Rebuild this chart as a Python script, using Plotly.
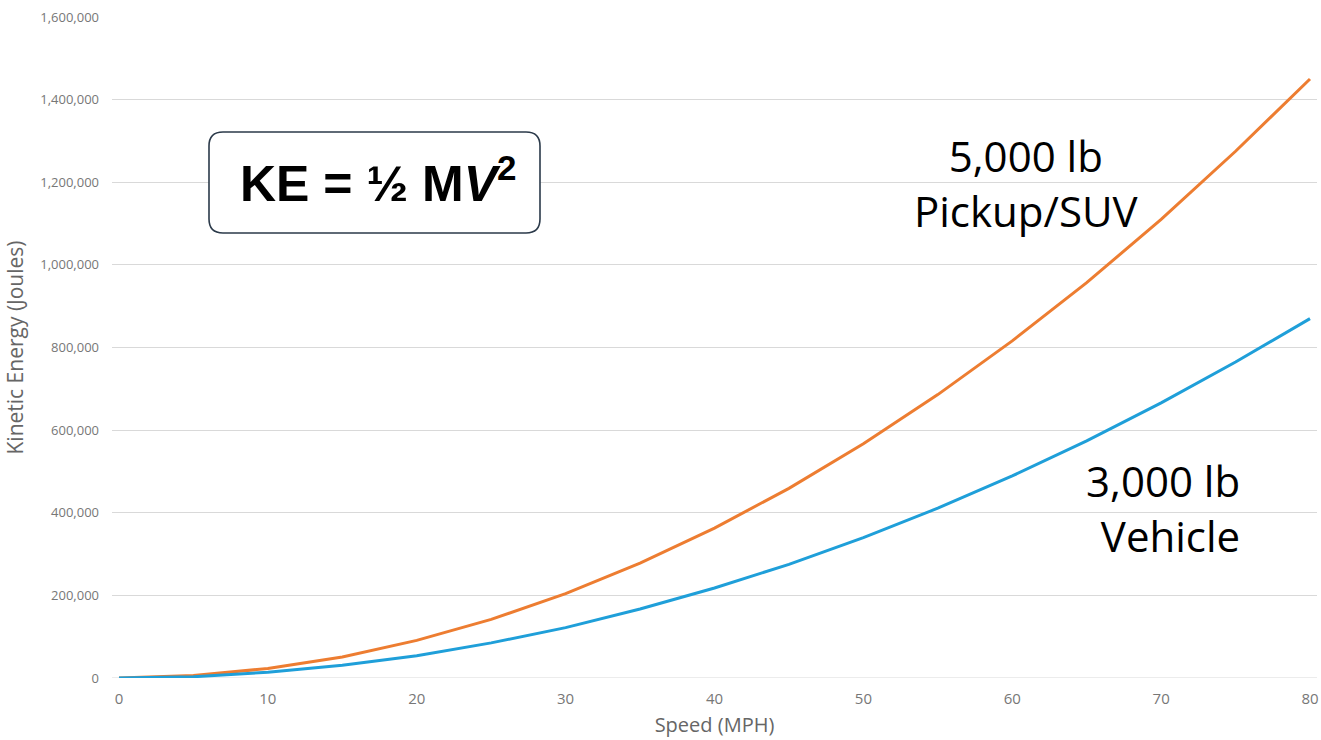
import plotly.graph_objects as go

speed_mph = [0, 5, 10, 15, 20, 25, 30, 35, 40, 45, 50, 55, 60, 65, 70, 75, 80]
ke_pickup_suv = [0, 6000, 23000, 51000, 91000, 142000, 204000, 278000, 363000,
                 459000, 567000, 686000, 816000, 957000, 1110000, 1275000, 1450000]
ke_vehicle = [0, 3000, 14000, 31000, 54000, 85000, 122000, 167000, 218000,
              275000, 340000, 411000, 489000, 574000, 666000, 765000, 870000]

x_ticks = [0, 10, 20, 30, 40, 50, 60, 70, 80]
y_ticks = [0, 200000, 400000, 600000, 800000, 1000000, 1200000, 1400000, 1600000]

fig = go.Figure()
fig.add_trace(go.Scatter(x=speed_mph, y=ke_pickup_suv, mode="lines",
                         line=dict(color="#ED7D31", width=3), name="5,000 lb Pickup/SUV"))
fig.add_trace(go.Scatter(x=speed_mph, y=ke_vehicle, mode="lines",
                         line=dict(color="#1F9FD9", width=3), name="3,000 lb Vehicle"))

L, R, T, B = 112, 1317, 17, 678
W, H = R - L, B - T

def px(xp):
    return (xp - L) / W

def py(yp):
    return (B - yp) / H

# rounded box for formula
bx0, bx1, by0, by1, rad = 209, 540, 132, 233, 14
rx, ry = rad / W, rad / H
x0, x1 = px(bx0), px(bx1)
yt, yb = py(by0), py(by1)
path = (f"M {x0+rx},{yt} L {x1-rx},{yt} Q {x1},{yt} {x1},{yt-ry} "
        f"L {x1},{yb+ry} Q {x1},{yb} {x1-rx},{yb} "
        f"L {x0+rx},{yb} Q {x0},{yb} {x0},{yb+ry} "
        f"L {x0},{yt-ry} Q {x0},{yt} {x0+rx},{yt} Z")
fig.add_shape(type="path", path=path, xref="paper", yref="paper",
              line=dict(color="#2B3A4A", width=1.6), fillcolor="white", layer="above")

fig.add_annotation(x=px(378), y=py(180), xref="paper", yref="paper",
                   text="<b>KE = ½ M<i>V</i><sup>2</sup></b>", showarrow=False,
                   font=dict(family="Liberation Sans, Arial", size=50, color="black"),
                   xanchor="center", yanchor="middle")

fig.add_annotation(x=px(1026), y=py(183), xref="paper", yref="paper",
                   text="5,000 lb<br>Pickup/SUV", showarrow=False, align="center",
                   font=dict(family="Open Sans", size=42, color="black"),
                   xanchor="center", yanchor="middle")
fig.add_annotation(x=px(1242), y=py(508), xref="paper", yref="paper",
                   text="3,000 lb<br>Vehicle", showarrow=False, align="right",
                   font=dict(family="Open Sans", size=42, color="black"),
                   xanchor="right", yanchor="middle")

fig.update_layout(
    width=1321, height=740,
    margin=dict(l=L, r=1321 - R, t=T, b=740 - B, autoexpand=False),
    paper_bgcolor="white", plot_bgcolor="white",
    showlegend=False,
    font=dict(family="Open Sans", color="#777777"),
    xaxis=dict(range=[-0.47, 80.47], tickvals=x_ticks, showgrid=False, zeroline=False,
               showline=False, ticks="", tickfont=dict(size=15, color="#777777"),
               ticklabelstandoff=10, automargin=False,
               title=dict(text="Speed (MPH)", font=dict(size=20, color="#666666"), standoff=10)),
    yaxis=dict(range=[0, 1600000], tickvals=y_ticks, tickformat=",d",
               showgrid=True, gridcolor="#D9D9D9", gridwidth=1, zeroline=False,
               showline=False, ticks="", tickfont=dict(size=13, color="#777777"),
               ticklabelstandoff=12, automargin=False,
               title=dict(text="Kinetic Energy (Joules)", font=dict(size=21, color="#666666"), standoff=10)),
)
fig.add_shape(type="line", xref="paper", yref="y", x0=0, x1=1, y0=0, y1=0,
              line=dict(color="#D9D9D9", width=1), layer="below")

fig.write_html("out.html", config={"displayModeBar": False},
               post_script="document.body.style.margin='0';document.body.style.padding='0';")
